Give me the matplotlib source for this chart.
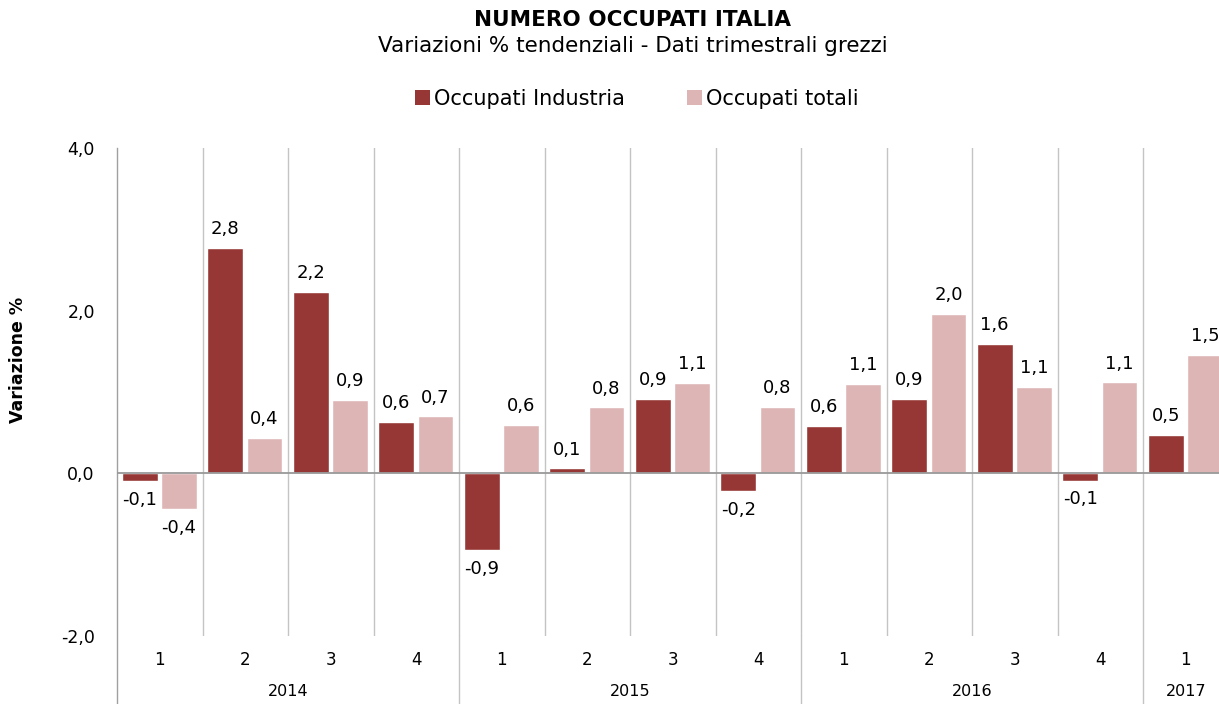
import matplotlib
matplotlib.use("Agg")
import matplotlib.pyplot as plt
from matplotlib.patches import Patch
from matplotlib.lines import Line2D
import matplotlib.transforms as mtransforms

quarters = ["1", "2", "3", "4", "1", "2", "3", "4", "1", "2", "3", "4", "1"]
years = ["2014", "2015", "2016", "2017"]
year_spans = [(0, 4), (4, 8), (8, 12), (12, 13)]
industria = [-0.10, 2.77, 2.23, 0.63, -0.94, 0.06, 0.92, -0.22, 0.58, 0.92, 1.59, -0.09, 0.47]
totali = [-0.44, 0.44, 0.90, 0.70, 0.60, 0.81, 1.11, 0.82, 1.10, 1.96, 1.06, 1.12, 1.46]
series_names = ["Occupati Industria", "Occupati totali"]
colors = ["#963735", "#DDB5B5"]
yticks = [-2.0, 0.0, 2.0, 4.0]

FONT = "DejaVu Sans"
plt.rcParams['font.family'] = [FONT]

W, H = 1219, 704
fig = plt.figure(figsize=(W / 100, H / 100), dpi=100)
left_px, right_px, top_px, bot_px = 117, 1228.5, 148, 636
ax = fig.add_axes([left_px / W, 1 - bot_px / H, (right_px - left_px) / W, (bot_px - top_px) / H])

n = len(quarters)
bw = 0.42
xs = [i + 0.5 for i in range(n)]
grid_c = "#C4C4C4"

def fmt(v):
    return f"{v:.1f}".replace(".", ",")

for vals, off, col in [(industria, -0.235, colors[0]), (totali, 0.225, colors[1])]:
    pos = [x + off for x in xs]
    ax.bar(pos, vals, width=bw, color=col, edgecolor="white", linewidth=1, zorder=3)
    for p, v in zip(pos, vals):
        if v >= 0:
            ax.annotate(fmt(v), (p, v), xytext=(0, 7), textcoords="offset points",
                        ha="center", va="bottom", fontsize=13)
        else:
            ax.annotate(fmt(v), (p, v), xytext=(0, -7), textcoords="offset points",
                        ha="center", va="top", fontsize=13)

ax.set_xlim(0, n)
ax.set_ylim(-2, 4)
ax.set_yticks(yticks)
ax.set_yticklabels([fmt(t) for t in yticks], fontsize=12.5)
ax.tick_params(axis="y", length=0, pad=16)
ax.set_xticks([])
for s in ax.spines.values():
    s.set_visible(False)

ax.axhline(0, color="#999999", lw=1.3, zorder=4)

# quarter separators
for b in range(1, n):
    ax.axvline(b, color=grid_c, lw=1, zorder=1)

trans = mtransforms.blended_transform_factory(ax.transData, ax.transAxes)
ext = -(H - bot_px) / (bot_px - top_px)
year_bounds = [0, 4, 8, 12]
for b in year_bounds:
    c = "#A0A0A0" if b == 0 else grid_c
    ax.add_line(Line2D([b, b], [ext - 0.02, 1.0 if b == 0 else 0.0], transform=trans,
                       color=c, lw=1, clip_on=False, zorder=1))

q_y = -(660 - bot_px) / (bot_px - top_px)
y_y = -(692 - bot_px) / (bot_px - top_px)
for x, q in zip(xs, quarters):
    ax.text(x, q_y, q, transform=trans, ha="center", va="center", fontsize=12)
for (a, b), yr in zip(year_spans, years):
    ax.text((a + b) / 2, y_y, yr, transform=trans, ha="center", va="center", fontsize=11.5)

fig.text(18 / W, 1 - 360 / H, "Variazione %", rotation=90, ha="center", va="center",
         fontsize=12.5, fontweight="bold")

fig.text(633 / W, 1 - 20 / H, "NUMERO OCCUPATI ITALIA", ha="center", va="center",
         fontsize=15.5, fontweight="bold")
fig.text(633 / W, 1 - 46 / H, "Variazioni % tendenziali - Dati trimestrali grezzi",
         ha="center", va="center", fontsize=15.5)

handles = [Patch(facecolor=c, edgecolor="none") for c in colors]
fig.legend(handles, series_names, loc="center", bbox_to_anchor=(637 / W, 1 - 99 / H),
           ncol=2, frameon=False, fontsize=15, handlelength=0.7, handleheight=0.7,
           handletextpad=0.2, columnspacing=3.0)

fig.savefig("out.png", dpi=100)
